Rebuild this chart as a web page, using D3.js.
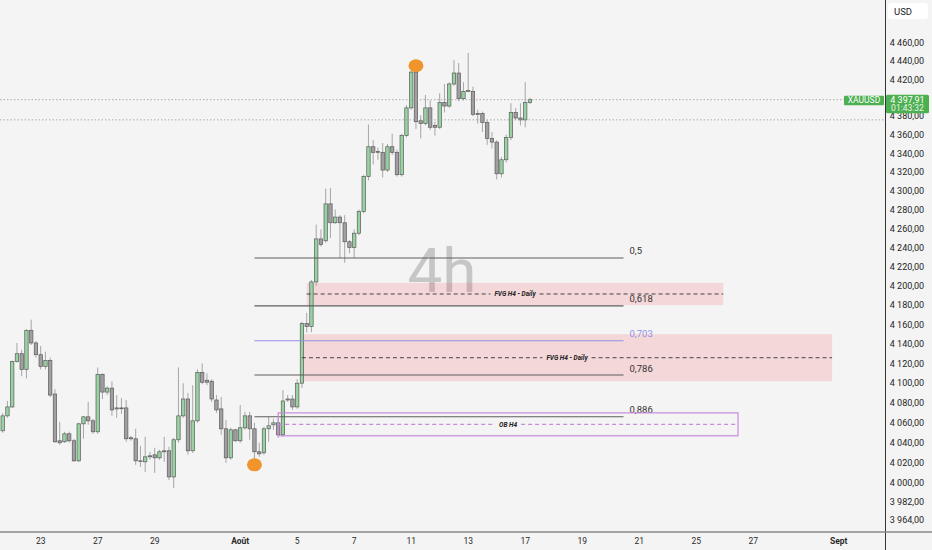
<!DOCTYPE html>
<html><head><meta charset="utf-8">
<script src="https://cdn.jsdelivr.net/npm/d3@7"></script>
<style>html,body{margin:0;padding:0;background:#f4f4f4;overflow:hidden}svg{display:block;font-family:Roboto,"Liberation Sans",sans-serif}</style>
</head><body><svg id="c" width="932" height="550"></svg>
<script>
// ---- data (XAUUSD 4h candles) ----
const opens =[4052,4067,4076,4122,4130,4114,4154,4141,4129,4117,4123,4089,4042,4041,4049,4042,4022,4059,4066,4062,4051,4109,4091,4095,4074,4075,4075,4044,4044,4022,4021,4026,4028,4025,4031,4032,4006,4043,4067,4084,4032,4062,4111,4103,4102,4083,4074,4054,4025,4053,4042,4055,4067,4054,4031,4030,4054,4058,4060,4048,4083,4084,4076,4100,4161,4158,4204,4249,4247,4286,4266,4272,4266,4246,4240,4255,4278,4315,4347,4341,4341,4322,4347,4341,4317,4359,4389,4428,4375,4372,4389,4370,4368,4395,4391,4415,4427,4399,4407,4407,4382,4383,4373,4356,4352,4318,4333,4357,4384,4378,4376,4395];
const highs =[4070,4082,4123,4141,4134,4155,4165,4143,4138,4132,4126,4094,4061,4051,4051,4044,4060,4067,4081,4064,4116,4110,4097,4102,4088,4085,4083,4047,4054,4037,4046,4031,4035,4033,4046,4036,4045,4116,4100,4090,4098,4114,4120,4110,4104,4088,4086,4063,4055,4054,4078,4071,4071,4060,4040,4056,4066,4064,4065,4093,4088,4088,4104,4163,4172,4206,4264,4259,4302,4303,4280,4274,4274,4248,4259,4280,4317,4371,4354,4346,4351,4350,4361,4344,4361,4392,4430,4435,4381,4403,4397,4374,4405,4415,4417,4441,4438,4417,4449,4412,4387,4385,4376,4363,4354,4336,4360,4394,4389,4394,4417,4400];
const lows  =[4050,4065,4075,4121,4107,4105,4139,4126,4114,4114,4086,4040,4038,4040,4040,4021,4021,4044,4058,4049,4049,4084,4088,4067,4065,4069,4041,4042,4018,4016,4011,4023,4010,4023,4021,4003,3995,4040,4065,4028,4030,4060,4099,4098,4081,4070,4048,4020,4023,4041,4040,4053,4043,4018,4026,4028,4041,4053,4045,4046,4081,4073,4074,4095,4152,4152,4200,4241,4245,4250,4265,4229,4224,4234,4229,4253,4276,4311,4328,4333,4314,4320,4338,4315,4315,4357,4387,4366,4356,4370,4365,4359,4366,4384,4389,4413,4396,4397,4406,4380,4372,4363,4349,4345,4312,4314,4330,4354,4376,4370,4368,4393];
const closes=[4067,4076,4122,4130,4114,4154,4141,4129,4117,4123,4088,4041,4040,4049,4042,4022,4059,4066,4062,4051,4109,4091,4095,4073,4075,4075,4044,4045,4022,4022,4026,4027,4025,4031,4032,4006,4043,4067,4084,4032,4062,4111,4101,4101,4084,4073,4054,4025,4053,4042,4055,4067,4054,4031,4029,4054,4057,4060,4048,4082,4084,4076,4100,4161,4158,4204,4249,4243,4286,4266,4272,4266,4246,4240,4255,4278,4315,4347,4341,4342,4322,4347,4341,4317,4359,4389,4428,4374,4372,4389,4368,4368,4395,4391,4415,4427,4399,4407,4408,4382,4383,4373,4356,4352,4318,4333,4357,4384,4378,4376,4395,4397.91];

const priceTicks=[4460,4440,4420,4380,4360,4340,4320,4300,4280,4260,4240,4220,4200,4180,4160,4140,4120,4100,4080,4060,4040,4020,4000,3982,3964];
const timeTickIdx=[8,20,32,50,62,74,86,98,110,122,134,146,158,176];
const timeTickLabels=["23","27","29","Août","5","7","11","13","17","19","21","25","27","Sept"];

const fibHigh=4440, fibLow=4018;
const fibRatios=[0.5,0.618,0.703,0.786,0.886];
const fibLabels=["0,5","0,618","0,703","0,786","0,886"];
const fibStartIdx=53, fibEndIdx=130.7;

const boxNames=["FVG H4 - Daily","FVG H4 - Daily","OB H4"];
const boxTop=[4203,4150,4070];
const boxBottom=[4180,4102,4047];
const boxStartIdx=[64,63,58];
const boxEndIdx=[151.7,174.6,154.8];

const lastPrice=4397.91, lastTime="01:43:32", symbol="XAUUSD";
const prevLine=4376;
const markHighIdx=87, markLowIdx=53;

// ---- layout ----
const plotR=885, plotB=532;
const svg=d3.select('#c');
const x=d3.scaleLinear().domain([0,111]).range([2.7,2.7+111*4.75]);
const y=d3.scaleLog().domain([4460,4000]).range([43,483]);
const fmt=v=>{const s=v.toFixed(2).replace('.',',');const [a,b]=s.split(',');return a.slice(0,a.length-3)+' '+a.slice(-3)+','+b;};

svg.append('rect').attr('width',932).attr('height',550).attr('fill','#f4f4f4');
svg.append('defs').append('clipPath').attr('id','clip').append('rect').attr('width',plotR).attr('height',plotB);
const g=svg.append('g').attr('clip-path','url(#clip)');

// watermark
g.append('text').attr('x',442).attr('y',292).attr('text-anchor','middle').attr('font-size',62).attr('fill','#c6c6c6').text('4h');

// FVG fills
const fvg=[0,1];
g.selectAll('rect.fvg').data(fvg).join('rect').attr('class','fvg')
 .attr('x',i=>x(boxStartIdx[i])).attr('width',i=>x(boxEndIdx[i])-x(boxStartIdx[i]))
 .attr('y',i=>y(boxTop[i])).attr('height',i=>y(boxBottom[i])-y(boxTop[i]))
 .attr('fill','rgba(242,54,69,0.15)');

// candles
const data=opens.map((o,i)=>({i,o,h:highs[i],l:lows[i],c:closes[i]}));
g.selectAll('line.wick').data(data).join('line').attr('class','wick')
 .attr('x1',d=>x(d.i)).attr('x2',d=>x(d.i)).attr('y1',d=>y(d.h)).attr('y2',d=>y(d.l))
 .attr('stroke','#a6a6a6').attr('stroke-width',1);
g.selectAll('rect.body').data(data).join('rect').attr('class','body')
 .attr('x',d=>x(d.i)-1.7).attr('width',3.4)
 .attr('y',d=>y(Math.max(d.o,d.c))).attr('height',d=>Math.max(0.8,Math.abs(y(d.o)-y(d.c))))
 .attr('fill',d=>d.c>=d.o?'#97d3a0':'#a0a0a0').attr('stroke','#5b5b5b').attr('stroke-width',0.7);

// fib lines
const fibs=fibRatios.map((r,i)=>({r,label:fibLabels[i],p:fibHigh-(fibHigh-fibLow)*r}));
g.selectAll('line.fib').data(fibs).join('line').attr('class','fib')
 .attr('x1',x(fibStartIdx)).attr('x2',x(fibEndIdx)).attr('y1',d=>y(d.p)).attr('y2',d=>y(d.p))
 .attr('stroke',d=>d.r===0.703?'#958fe3':'#5e5e5e').attr('stroke-width',1.1);
g.selectAll('text.fib').data(fibs).join('text').attr('class','fib')
 .attr('x',x(fibEndIdx)+6).attr('y',d=>y(d.p)-3.5).attr('font-size',9.5)
 .attr('fill',d=>d.r===0.703?'#958fe3':'#333').text(d=>d.label);

// box midlines + labels
[0,1,2].forEach(i=>{
  const xm0=x(boxStartIdx[i]), xm1=x(boxEndIdx[i]);
  const ym=(y(boxTop[i])+y(boxBottom[i]))/2;
  const col=i===2?'#c88bdc':'#333';
  const t=g.append('text').attr('x',(xm0+xm1)/2).attr('y',ym+2.3).attr('text-anchor','middle')
    .attr('font-size',6.5).attr('font-style','italic').attr('font-weight','bold').attr('fill','#222').text(boxNames[i]);
  const w=t.node().getComputedTextLength()/2+4;
  const cx=(xm0+xm1)/2;
  [[xm0,cx-w],[cx+w,xm1]].forEach(s=>{
    g.append('line').attr('x1',s[0]).attr('x2',s[1]).attr('y1',ym).attr('y2',ym)
     .attr('stroke',col).attr('stroke-width',i===2?1.2:0.9).attr('stroke-dasharray','4,3');
  });
  if(i===2){
    g.append('rect').attr('x',xm0).attr('width',xm1-xm0).attr('y',y(boxTop[i])).attr('height',y(boxBottom[i])-y(boxTop[i]))
     .attr('fill','none').attr('stroke','#c88bdc').attr('stroke-width',1.2);
  }
});

// marks
[[markHighIdx,highs[markHighIdx]],[markLowIdx,lows[markLowIdx]]].forEach(m=>{
  g.append('ellipse').attr('cx',x(m[0])).attr('cy',y(m[1])).attr('rx',7.5).attr('ry',6.5).attr('fill','#f0952b');
});

// price lines
[lastPrice,prevLine].forEach(p=>{
  g.append('line').attr('x1',0).attr('x2',plotR).attr('y1',y(p)).attr('y2',y(p))
   .attr('stroke','#9a9a9a').attr('stroke-width',0.8).attr('stroke-dasharray','1.5,2');
});

// axes
svg.append('line').attr('x1',plotR+0.5).attr('x2',plotR+0.5).attr('y1',0).attr('y2',550).attr('stroke','#333').attr('stroke-width',1);
svg.append('line').attr('x1',0).attr('x2',932).attr('y1',plotB).attr('y2',plotB).attr('stroke','#8a8a8a').attr('stroke-width',1.6);
svg.selectAll('text.pt').data(priceTicks).join('text').attr('class','pt')
 .attr('x',907).attr('y',d=>y(d)+3.3).attr('text-anchor','middle').attr('font-size',9).attr('fill','#1f1f1f').text(fmt);
svg.selectAll('text.tt').data(timeTickIdx).join('text').attr('class','tt')
 .attr('x',d=>x(d)).attr('y',544).attr('text-anchor','middle').attr('font-size',8.5)
 .attr('font-weight',(d,i)=>isNaN(+timeTickLabels[i])?'bold':'normal').attr('fill','#2a2a2a').text((d,i)=>timeTickLabels[i]);

// USD box
svg.append('rect').attr('x',888).attr('y',3).attr('width',40).attr('height',16).attr('rx',3).attr('fill','#fff');
svg.append('text').attr('x',894).attr('y',14.5).attr('font-size',9.5).attr('fill','#222').text('USD');

// last price label
const yl=y(lastPrice);
svg.append('rect').attr('x',886).attr('y',yl-5).attr('width',43).attr('height',18.5).attr('rx',1.5).attr('fill','#4caf50');
svg.append('text').attr('x',907.5).attr('y',yl+3.3).attr('text-anchor','middle').attr('font-size',9).attr('fill','#fff').text(fmt(lastPrice));
svg.append('text').attr('x',907.5).attr('y',yl+11.5).attr('text-anchor','middle').attr('font-size',8.5).attr('fill','#e8f6e8').text(lastTime);
svg.append('rect').attr('x',844).attr('y',yl-4).attr('width',40).attr('height',9.5).attr('rx',1).attr('fill','#4caf50');
svg.append('text').attr('x',864).attr('y',yl+3.5).attr('text-anchor','middle').attr('font-size',8.5).attr('fill','#fff').text(symbol);
</script></body></html>
